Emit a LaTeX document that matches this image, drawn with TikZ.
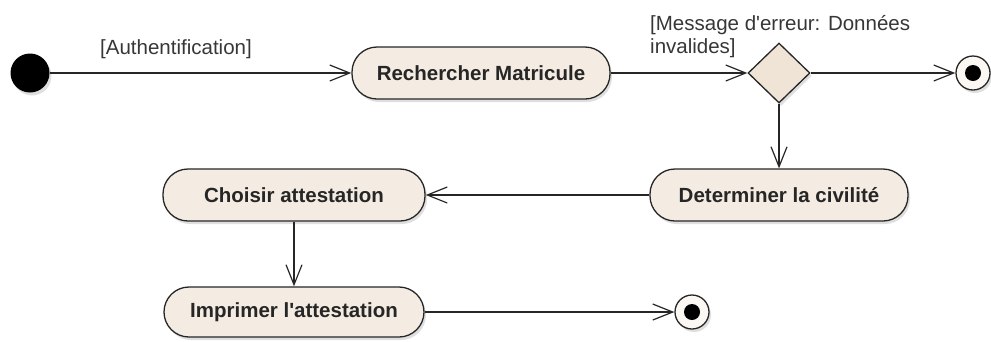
\documentclass[tikz,border=0pt]{standalone}
\usepackage{fontspec}
\setmainfont{Liberation Sans}[Ligatures=TeXOff]
\usetikzlibrary{arrows.meta,shapes.geometric,shadows}
\definecolor{actfill}{RGB}{244,236,226}
\definecolor{decfill}{RGB}{240,228,214}
\definecolor{edgecol}{RGB}{38,38,38}
\definecolor{lblcol}{RGB}{55,55,55}
\tikzset{
  x=1pt, y=-1pt,
  softshadow/.style={drop shadow={shadow xshift=2pt, shadow yshift=-3pt, opacity=0.25}},
  action/.style={draw=edgecol, line width=1.3pt, fill=actfill, rounded corners=25pt,
    minimum height=52pt, minimum width=258pt, inner sep=0pt, text=black!85,
    font=\fontsize{20.5}{24}\selectfont\bfseries, softshadow},
  decision/.style={diamond, draw=edgecol, line width=1.3pt, fill=decfill,
    minimum width=62pt, minimum height=60pt, inner sep=0pt, softshadow},
  initial/.style={circle, fill=black, minimum size=39pt, inner sep=0pt, softshadow},
  final/.style={circle, draw=edgecol, line width=1.3pt, fill=actfill!40,
    minimum size=34pt, inner sep=0pt, softshadow,
    path picture={\fill[black] (path picture bounding box.center) circle (8pt);}},
  guard/.style={text=lblcol, font=\fontsize{20.5}{23}\selectfont, inner sep=0pt},
  flow/.style={draw=edgecol, line width=1.2pt,
    -{Straight Barb[length=20pt,width=16pt]}},
}
\begin{document}
\begin{tikzpicture}
  \useasboundingbox (0,0) rectangle (991,341);

  % top row
  \node[initial] (start) at (30,73) {};
  \node[action] (rech) at (481,73) {Rechercher Matricule};
  \node[decision] (dec) at (779,73) {};
  \node[final] (end1) at (973,73) {};

  % middle row
  \node[action] (civ) at (779,195) {Determiner la civilité};
  \node[action, minimum width=262pt] (choix) at (294,195) {Choisir attestation};

  % bottom row
  \node[action, minimum width=260pt, minimum height=50pt] (impr) at (294,312) {Imprimer l'attestation};
  \node[final] (end2) at (692,312) {};

  % guards
  \node[guard, anchor=base west] (gauth) at (100,54) {[Authentification]};
  \node[guard, anchor=base west, align=left] (gerr) at (650,53) {[Message d'erreur: Données\\invalides]};

  % control flows
  \draw[flow] (start) -- (rech);
  \draw[flow] (rech) -- (dec);
  \draw[flow] (dec) -- (end1);
  \draw[flow] (dec) -- (civ);
  \draw[flow] (civ) -- (choix);
  \draw[flow] (choix) -- (impr);
  \draw[flow] (impr) -- (end2);
\end{tikzpicture}
\end{document}
